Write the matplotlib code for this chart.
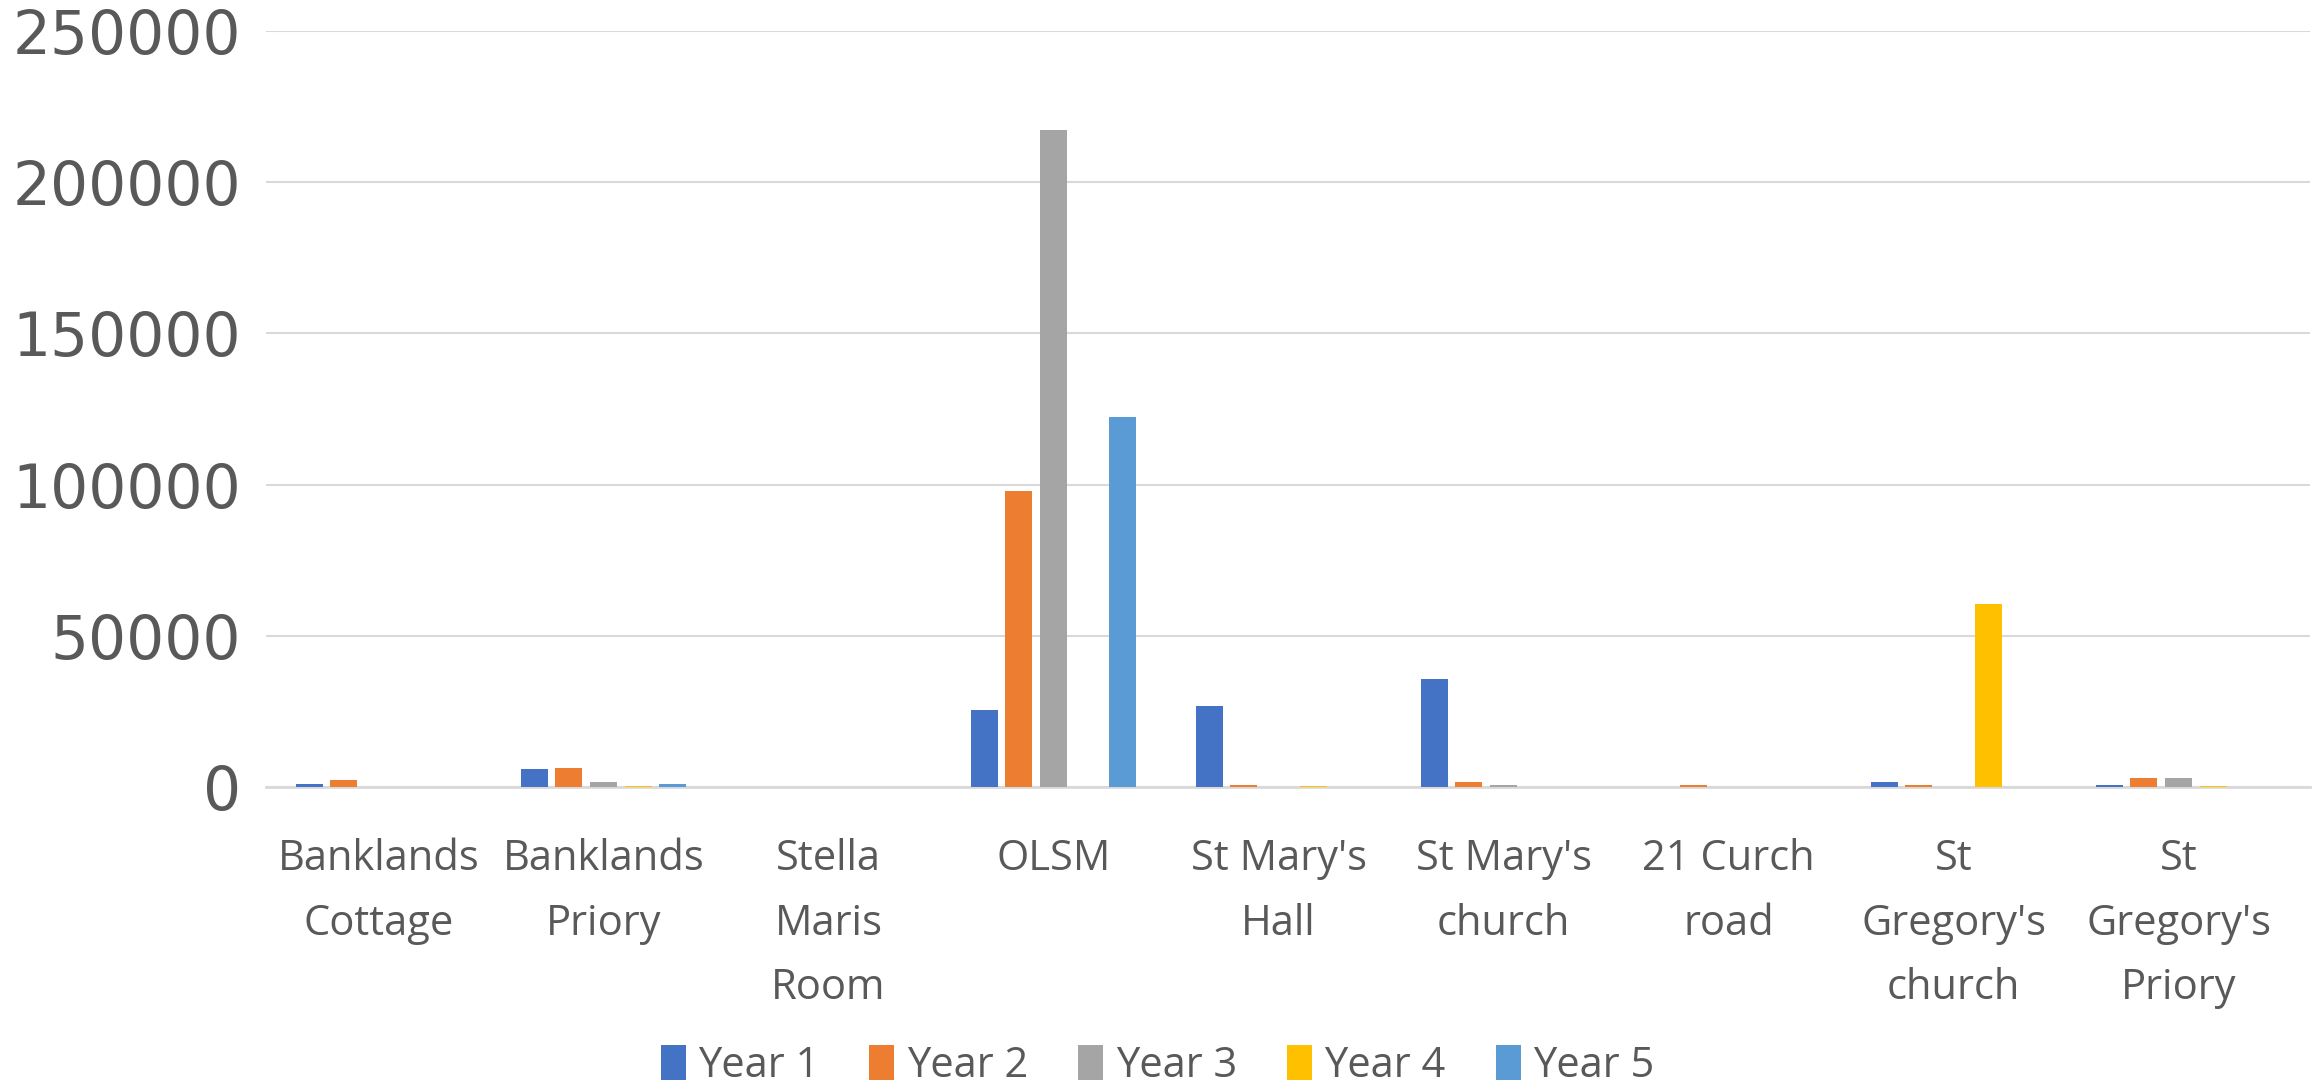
import numpy as np
import matplotlib.pyplot as plt

# venues (x categories) and yearly values
venues = ["Banklands\nCottage", "Banklands\nPriory", "Stella\nMaris\nRoom", "OLSM",
          "St Mary's\nHall", "St Mary's\nchurch", "21 Curch\nroad",
          "St\nGregory's\nchurch", "St\nGregory's\nPriory"]
years = ["Year 1", "Year 2", "Year 3", "Year 4", "Year 5"]
year1 = [1100, 5800, 0, 25400, 26700, 35800, 0, 1750, 500]
year2 = [2400, 6400, 0, 97800, 500, 1750, 500, 500, 3000]
year3 = [0, 1500, 0, 217300, 0, 500, 0, 0, 3000]
year4 = [0, 150, 0, 0, 150, 0, 0, 60600, 150]
year5 = [0, 1100, 0, 122400, 0, 0, 0, 0, 0]
yticks = [0, 50000, 100000, 150000, 200000, 250000]

colors = ["#4472C4", "#ED7D31", "#A5A5A5", "#FFC000", "#5B9BD5"]
txt = "#595959"

fig = plt.figure(figsize=(23.15, 10.91), dpi=100)
ax = fig.add_axes([0.1149, 0.2787, 0.883, 0.6929])

x = np.arange(len(venues))
series = [year1, year2, year3, year4, year5]
step = 0.154
for i, vals in enumerate(series):
    ax.bar(x + (i - 2) * step, vals, width=0.12, color=colors[i],
           label=years[i], zorder=3)

ax.set_xlim(-0.5, len(venues) - 0.415)
ax.set_ylim(0, 250000)
ax.set_yticks(yticks)
ax.set_yticklabels([str(v) for v in yticks], fontsize=43, color=txt,
                   family="DejaVu Sans")
ax.set_xticks(x)
ax.set_xticklabels(venues, fontsize=30, color=txt, linespacing=1.7,
                   family=["Liberation Sans Narrow", "Open Sans"])
ax.tick_params(axis="both", length=0)
ax.tick_params(axis="y", pad=18)
ax.tick_params(axis="x", pad=37)
ax.grid(axis="y", color="#D9D9D9", linewidth=1.5, zorder=0)
for s in ["top", "right", "left"]:
    ax.spines[s].set_visible(False)
ax.spines["bottom"].set_color("#D9D9D9")
ax.spines["bottom"].set_linewidth(2)

fig.legend(loc="center", bbox_to_anchor=(0.5, 0.023), ncol=5, frameon=False,
           prop={"family": ["Liberation Sans Narrow", "Open Sans"], "size": 30},
           labelcolor=txt, handlelength=0.6, handleheight=0.9,
           handletextpad=0.3, columnspacing=1.2)

fig.savefig("out.png", dpi=100)
